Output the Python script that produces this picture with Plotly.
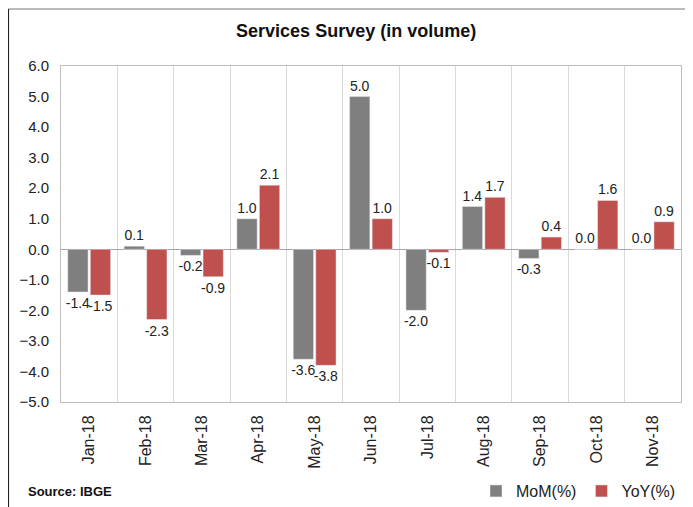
import plotly.graph_objects as go

months = ["Jan-18", "Feb-18", "Mar-18", "Apr-18", "May-18", "Jun-18",
          "Jul-18", "Aug-18", "Sep-18", "Oct-18", "Nov-18"]
mom = [-1.4, 0.1, -0.2, 1.0, -3.6, 5.0, -2.0, 1.4, -0.3, 0.0, 0.0]
yoy = [-1.5, -2.3, -0.9, 2.1, -3.8, 1.0, -0.1, 1.7, 0.4, 1.6, 0.9]
y_ticks = [6, 5, 4, 3, 2, 1, 0, -1, -2, -3, -4, -5]

GRAY = "#7f7f7f"
RED = "#c0504d"
SANS = "Liberation Sans, Arial"

fig = go.Figure()
for vals, name, col in [(mom, "MoM(%)", GRAY), (yoy, "YoY(%)", RED)]:
    fig.add_trace(go.Bar(x=months, y=vals, name=name, marker_color=col,
                         texttemplate="%{y:.1f}", textposition="outside",
                         constraintext="none",
                         textfont=dict(family=SANS, size=14, color="#222"),
                         cliponaxis=False))

fig.update_layout(
    width=685, height=499,
    margin=dict(l=53, r=12, t=58, b=105, autoexpand=False),
    paper_bgcolor="white", plot_bgcolor="white",
    barmode="group", bargap=0.2, bargroupgap=0.1,
    title=dict(text="<b>Services Survey (in volume)</b>", x=0.476, xref="paper",
               xanchor="center", y=0.955, yanchor="middle",
               font=dict(family=SANS, size=18, color="#111")),
    showlegend=True,
    legend=dict(orientation="h", x=1.0, xanchor="right", y=-0.265, yanchor="middle",
                font=dict(family=SANS, size=16, color="#222"),
                itemwidth=30, bgcolor="rgba(0,0,0,0)", traceorder="normal"),
)
fig.update_xaxes(type="category", tickson="boundaries", showgrid=True,
                 gridcolor="#d9d9d9", gridwidth=1, ticks="", tickangle=-90,
                 tickfont=dict(family=SANS, size=16, color="#222"),
                 ticklabelstandoff=6, automargin=False,
                 showline=True, linecolor="#bfbfbf", mirror=True)
fig.update_yaxes(range=[-5, 6], tickvals=y_ticks, tickformat=".1f",
                 showgrid=False, zeroline=True, zerolinecolor="#a6a6a6",
                 zerolinewidth=1, ticks="", ticklabelstandoff=8, automargin=False,
                 tickfont=dict(family=SANS, size=15, color="#222"),
                 showline=True, linecolor="#bfbfbf", mirror=True)

fig.add_annotation(text="<b>Source: IBGE</b>", xref="paper", yref="paper",
                   x=-0.056, y=-0.265, xanchor="left", yanchor="middle",
                   showarrow=False, font=dict(family=SANS, size=13, color="#111"))
# outer chart frame
fig.add_shape(type="line", xref="paper", yref="paper", x0=-0.085, x1=1.02,
              y0=1.17, y1=1.17, line=dict(color="#a6a6a6", width=1.5))
fig.add_shape(type="line", xref="paper", yref="paper", x0=-0.085, x1=-0.085,
              y0=1.17, y1=-0.32, line=dict(color="#222", width=1.5))

fig.write_html("out.html")
